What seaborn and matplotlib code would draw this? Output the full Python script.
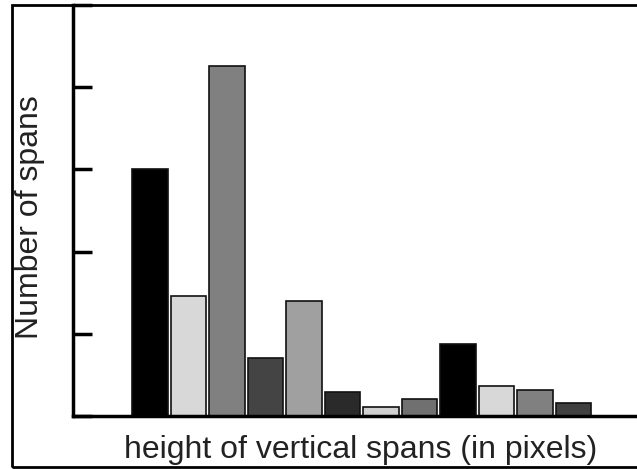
import matplotlib
matplotlib.use("Agg")
import matplotlib.pyplot as plt
import seaborn as sns
import pandas as pd
from matplotlib.patches import Rectangle

# dados (unidades dos ticks do eixo y)
faixas = ["1", "2", "3", "4", "5", "6", "7", "8", "9", "10", "11", "12"]
n_spans = [3.0, 1.46, 4.26, 0.71, 1.40, 0.29, 0.11, 0.21, 0.88, 0.37, 0.32, 0.16]
cores = ["#000000", "#d8d8d8", "#808080", "#444444", "#a0a0a0", "#2a2a2a",
         "#d0d0d0", "#707070", "#000000", "#d8d8d8", "#808080", "#404040"]

df = pd.DataFrame({"faixa": faixas, "n": n_spans})

sns.set_theme(style="white")
plt.rcParams["font.family"] = ["Liberation Sans", "DejaVu Sans"]

fig = plt.figure(figsize=(6.37, 4.69), dpi=100)
ax = fig.add_axes([73 / 637, 1 - 416 / 469, 1 - 73 / 637, 411 / 469])

sns.barplot(data=df, x="faixa", y="n", hue="faixa", palette=cores, legend=False,
            width=0.93, edgecolor="#111111", linewidth=1.2, saturation=1, ax=ax)

ax.set_xlim(-2.0, 12.65)
ax.set_ylim(0, 5)
ax.set_yticks([0, 1, 2, 3, 4, 5])
ax.set_yticklabels([])
ax.set_xticks([])
ax.tick_params(axis="y", direction="in", length=14, width=2.5, color="black", left=True)
ax.set_xlabel("")
ax.set_ylabel("")
for s in ["top", "right"]:
    ax.spines[s].set_visible(False)
for s in ["left", "bottom"]:
    ax.spines[s].set_linewidth(2.5)
    ax.spines[s].set_color("black")
ax.spines["left"].set_zorder(5)

# rotulos
fig.text(361 / 637, 1 - 458 / 469, "height of vertical spans (in pixels)",
         ha="center", va="baseline", fontsize=23, color="#222222")
fig.text(30 / 637, 1 - 217 / 469, "Number of spans", rotation=90,
         ha="center", va="center", fontsize=23, color="#222222")

# moldura
fig.patches.append(Rectangle((12 / 637, 1 - 467 / 469), 1.0, 462 / 469,
                             transform=fig.transFigure, fill=False,
                             edgecolor="black", linewidth=2, zorder=10))

fig.savefig("out.png", dpi=100)
